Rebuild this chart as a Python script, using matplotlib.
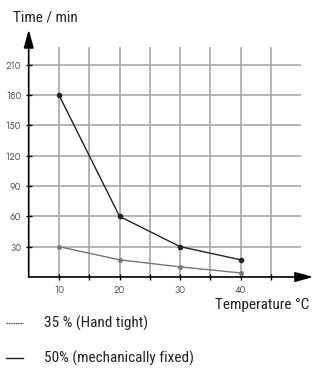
import matplotlib.pyplot as plt

# data
temps = [10, 20, 30, 40]
fixed_50 = [180, 60, 30, 17]      # 50% (mechanically fixed)
hand_35 = [30, 17, 10, 4]         # 35% (Hand tight)
xticks = [10, 15, 20, 25, 30, 35, 40, 45]
xlabels = ['10', '', '20', '', '30', '', '40', '']
yticks = [30, 60, 90, 120, 150, 180, 210]

label_font = ['Roboto Condensed', 'Open Sans Condensed', 'DejaVu Sans']
tick_font = ['Jost', 'DejaVu Sans']

fig = plt.figure(figsize=(3.13, 3.77), dpi=100)
ax = fig.add_axes([0.0917, 0.2653, 0.871, 0.611])
ax.set_xlim(5, 50)
ax.set_ylim(0, 228)

# grid
for x in xticks:
    ax.plot([x, x], [0, 228], color='#a8a8a8', lw=1.2, zorder=1)
for y in yticks:
    ax.plot([5, 50], [y, y], color='#a8a8a8', lw=1.2, zorder=1)

# series
ax.plot(temps, hand_35, color='#777777', lw=1.0, marker='o', ms=2.5, zorder=3)
ax.plot(temps, fixed_50, color='#222222', lw=1.0, marker='o', ms=3, zorder=4)

for s in ax.spines.values():
    s.set_visible(False)

# axes with arrows
ax.annotate('', xy=(5, 245), xytext=(5, 0), annotation_clip=False,
            arrowprops=dict(arrowstyle='-|>,head_width=0.3,head_length=1.1', color='black', lw=1.2,
                            shrinkA=0, shrinkB=0))
ax.annotate('', xy=(52, 0), xytext=(5, 0), annotation_clip=False,
            arrowprops=dict(arrowstyle='-|>,head_width=0.3,head_length=1.1', color='black', lw=1.2,
                            shrinkA=0, shrinkB=0))

ax.set_xticks(xticks)
ax.set_xticklabels(xlabels)
ax.set_yticks(yticks)
ax.tick_params(axis='both', direction='inout', length=5, width=1, color='black',
               labelsize=7, labelcolor='#555555', pad=3)
for lab in ax.get_xticklabels() + ax.get_yticklabels():
    lab.set_family(tick_font)

fig.text(0.042, 0.953, 'Time / min', fontsize=11, color='#222222', va='center', family=label_font)
fig.text(0.99, 0.19, 'Temperature °C', fontsize=11, color='#222222', va='center', ha='right',
         family=label_font)

# legend
fig.lines.append(plt.Line2D([0.02, 0.075], [0.143, 0.143], transform=fig.transFigure,
                            color='#555555', lw=0.8, ls=(0, (1.5, 0.6))))
fig.text(0.142, 0.143, '35 % (Hand tight)', fontsize=11, color='#222222', va='center',
         family=label_font)
fig.lines.append(plt.Line2D([0.02, 0.075], [0.05, 0.05], transform=fig.transFigure,
                            color='#222222', lw=1.0))
fig.text(0.142, 0.05, '50% (mechanically fixed)', fontsize=11, color='#222222', va='center',
         family=label_font)

fig.savefig('out.png', dpi=100)
